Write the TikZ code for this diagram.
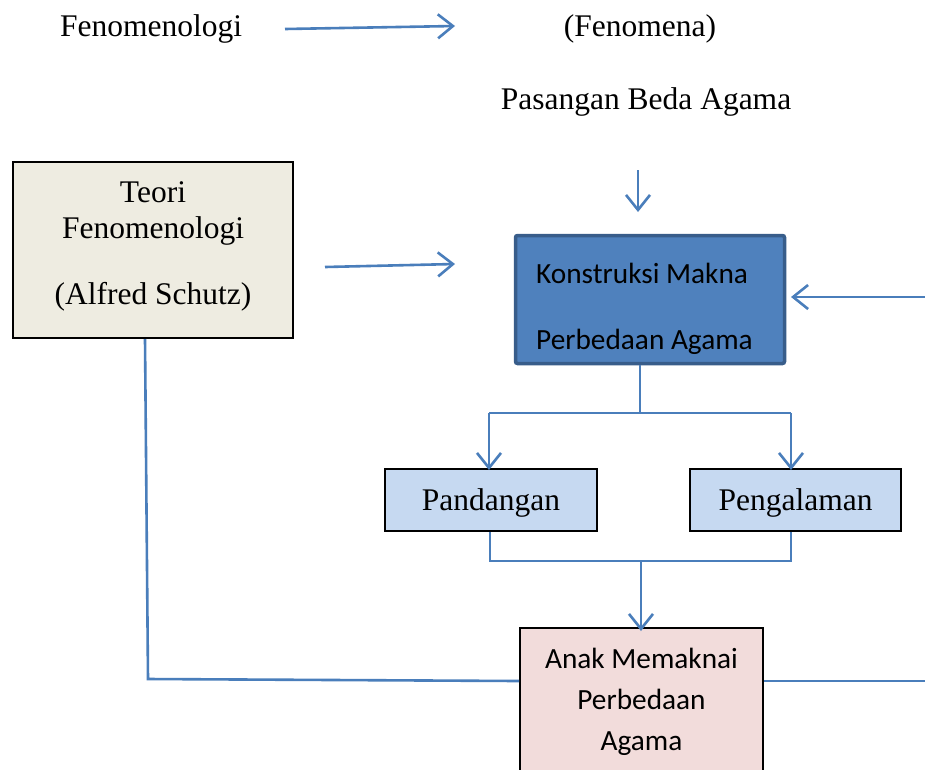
\documentclass[tikz,border=0pt]{standalone}
\usepackage{fontspec}
\setmainfont{Liberation Serif}
\newfontfamily\calibri{Carlito}
\usetikzlibrary{arrows.meta}
\definecolor{lineblue}{HTML}{4A7EBB}
\definecolor{konfill}{HTML}{4F81BD}
\definecolor{kondraw}{HTML}{385D8A}
\definecolor{teorifill}{HTML}{EEECE1}
\definecolor{lightblue}{HTML}{C6D9F1}
\definecolor{pinkfill}{HTML}{F2DCDB}
\tikzset{
  conn/.style={draw=lineblue, line width=2.6pt},
  arr/.style={conn, -{Straight Barb[length=15pt,width=24pt,line width=2.6pt]}},
  tt/.style={font=\fontsize{31.5}{36}\selectfont, inner sep=0pt, anchor=base},
  ct/.style={font=\calibri\fontsize{29.3}{32}\selectfont, inner sep=0pt, anchor=base},
  box/.style={draw=black, line width=2pt, inner sep=0pt},
}
\begin{document}
\begin{tikzpicture}[x=1pt,y=-1pt]
\clip (0,0) rectangle (925,769);
\fill[white] (0,0) rectangle (925,769);
% top texts
\node[tt] (fen) at (151,36) {Fenomenologi};
\node[tt] (fenomena) at (640,36) {(Fenomena)};
\node[tt] (pasangan) at (646,109) {Pasangan Beda Agama};
% boxes
\node[box, fill=teorifill, line width=2.6pt, minimum width=280pt, minimum height=176pt] (teori) at (153,250) {};
\node[tt] (t1) at (153,202) {Teori};
\node[tt] (t2) at (153,238) {Fenomenologi};
\node[tt] (t3) at (153,304) {(Alfred Schutz)};
\node[draw=kondraw, fill=konfill, line width=3.5pt, rounded corners=2pt, minimum width=269pt, minimum height=128pt, inner sep=0pt] (kon) at (650,299.5) {};
\node[ct, anchor=base west] (k1) at (536,283) {Konstruksi Makna};
\node[ct, anchor=base west] (k2) at (536,349) {Perbedaan Agama};
\node[box, fill=lightblue, minimum width=212pt, minimum height=62pt] (pand) at (491,500) {};
\node[tt] at (491,510) {Pandangan};
\node[box, fill=lightblue, minimum width=211pt, minimum height=62pt] (peng) at (795.5,500) {};
\node[tt] at (795.5,510) {Pengalaman};
\node[box, fill=pinkfill, minimum width=243pt, minimum height=180pt] (anak) at (641.5,718) {};
\node[ct] (a1) at (641.5,668) {Anak Memaknai};
\node[ct] (a2) at (641.5,709) {Perbedaan};
\node[ct] (a3) at (641.5,750) {Agama};
% coordinates
\coordinate (a1s) at (285,29);
\coordinate (a1e) at (455,26);
\coordinate (a2s) at (325,267);
\coordinate (a2e) at (455,264);
\coordinate (dns) at (638,170);
\coordinate (dne) at (638,212);
\coordinate (rs) at (926,297);
\coordinate (re) at (791,297);
\coordinate (split) at (640,413);
\coordinate (pl) at (489,413);
\coordinate (pr) at (791,413);
\coordinate (ql) at (490,561);
\coordinate (qr) at (791,561);
\coordinate (join) at (641,561);
\coordinate (ls) at (145,339);
\coordinate (lc) at (148,679);
\coordinate (rend) at (926,681);
% connectors
\draw[arr] (a1s) -- (a1e);
\draw[arr] (a2s) -- (a2e);
\draw[arr] (dns) -- (dne);
\draw[arr] (rs) -- (re);
\draw[conn] (split |- kon.south) -- (split);
\draw[conn] (pl) -- (pr);
\draw[arr] (pl) -- ([yshift=-2pt]pl |- pand.north);
\draw[arr] (pr) -- ([yshift=-2pt]pr |- peng.north);
\draw[conn] (ql |- pand.south) -- (ql) -- (qr) -- (qr |- peng.south);
\draw[arr] (join) -- ([yshift=-4pt]join |- anak.north);
\draw[conn] (ls) -- (lc) -- (anak.west |- 0,681);
\draw[conn] (anak.east |- 0,681) -- (rend);
\end{tikzpicture}
\end{document}
